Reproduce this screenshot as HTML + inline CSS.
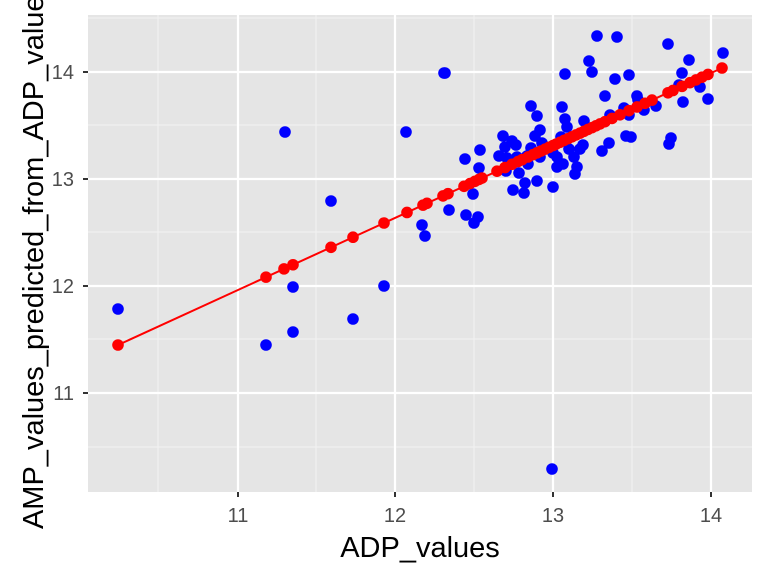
<!DOCTYPE html>
<html><head><meta charset="utf-8"><style>
html,body{margin:0;padding:0;background:#fff;}
svg{display:block;font-family:"Liberation Sans",sans-serif;}
</style></head><body>
<svg width="768" height="576" viewBox="0 0 768 576" xmlns="http://www.w3.org/2000/svg">
<rect x="88" y="15" width="664" height="477" fill="#e5e5e5"/>
<g stroke="#f2f2f2" stroke-width="1.1">
<line x1="158" y1="15" x2="158" y2="492"/><line x1="316" y1="15" x2="316" y2="492"/><line x1="474" y1="15" x2="474" y2="492"/><line x1="632" y1="15" x2="632" y2="492"/>
<line x1="88" y1="18" x2="752" y2="18"/><line x1="88" y1="125" x2="752" y2="125"/><line x1="88" y1="232" x2="752" y2="232"/><line x1="88" y1="339" x2="752" y2="339"/><line x1="88" y1="447" x2="752" y2="447"/>
</g>
<g stroke="#fff" stroke-width="2.2">
<line x1="238" y1="15" x2="238" y2="492"/><line x1="395" y1="15" x2="395" y2="492"/><line x1="553" y1="15" x2="553" y2="492"/><line x1="711" y1="15" x2="711" y2="492"/>
<line x1="88" y1="72" x2="752" y2="72"/><line x1="88" y1="179" x2="752" y2="179"/><line x1="88" y1="286" x2="752" y2="286"/><line x1="88" y1="393" x2="752" y2="393"/>
</g>
<g stroke="#333" stroke-width="2">
<line x1="238" y1="492" x2="238" y2="497"/><line x1="395" y1="492" x2="395" y2="497"/><line x1="553" y1="492" x2="553" y2="497"/><line x1="711" y1="492" x2="711" y2="497"/>
<line x1="83" y1="72" x2="88" y2="72"/><line x1="83" y1="179" x2="88" y2="179"/><line x1="83" y1="286" x2="88" y2="286"/><line x1="83" y1="393" x2="88" y2="393"/>
</g>
<g fill="#4d4d4d" font-size="20" text-anchor="middle">
<text x="238" y="522">11</text><text x="395" y="522">12</text><text x="553" y="522">13</text><text x="711" y="522">14</text>
</g>
<g fill="#4d4d4d" font-size="20" text-anchor="end">
<text x="74" y="79">14</text><text x="74" y="186">13</text><text x="74" y="293">12</text><text x="74" y="400">11</text>
</g>
<text x="420" y="557" font-size="29" text-anchor="middle" fill="#000">ADP_values</text>
<text transform="translate(43,255) rotate(-90)" font-size="29" text-anchor="middle" fill="#000">AMP_values_predicted_from_ADP_values</text>
<g id="blue" fill="#0000ff"></g>
<line x1="118" y1="345" x2="722" y2="68" stroke="#ff0000" stroke-width="2"/>
<g id="red" fill="#ff0000"></g>
</svg>
<script>
var b=[[597,36],[617,37],[668,44],[723,53],[689,60],[589,61],[445,73],[565,74],[592,72],[629,75],[615,79],[682,73],[679,85],[700,87],[708,99],[683,102],[605,96],[637,96],[638,100],[644,110],[656,106],[531,106],[562,107],[624,108],[610,115],[629,115],[537,116],[565,119],[567,127],[584,121],[540,130],[535,136],[503,136],[561,137],[626,136],[631,137],[671,138],[669,144],[512,141],[516,145],[505,147],[542,143],[531,148],[480,150],[583,145],[580,149],[569,149],[609,143],[602,151],[465,159],[499,156],[517,157],[507,158],[527,156],[540,157],[553,153],[557,157],[574,157],[479,168],[506,171],[519,173],[528,164],[557,167],[563,164],[577,167],[575,174],[525,183],[537,181],[513,190],[524,193],[553,187],[473,194],[449,210],[466,215],[478,217],[118,309],[331,201],[293,287],[384,286],[353,319],[293,332],[266,345],[422,225],[425,236],[474,223],[285,132],[406,132],[444,73],[552,469]];
var r=[118,266,284,293,331,353,384,407,423,427,443,448,464,470,475,479,482,497,505,512,518,522,528,533,537,541,545,549,553,556,560,564,568,572,576,580,584,588,592,596,600,605,612,620,629,637,645,652,668,673,682,690,696,702,708,722];
var ns="http://www.w3.org/2000/svg";
var gb=document.getElementById("blue"),gr=document.getElementById("red");
b.forEach(function(p){var c=document.createElementNS(ns,"circle");c.setAttribute("cx",p[0]);c.setAttribute("cy",p[1]);c.setAttribute("r",5.8);gb.appendChild(c);});
r.forEach(function(x){var c=document.createElementNS(ns,"circle");c.setAttribute("cx",x);c.setAttribute("cy",345-(x-118)*277/604);c.setAttribute("r",5.8);gr.appendChild(c);});
</script>
</body></html>
